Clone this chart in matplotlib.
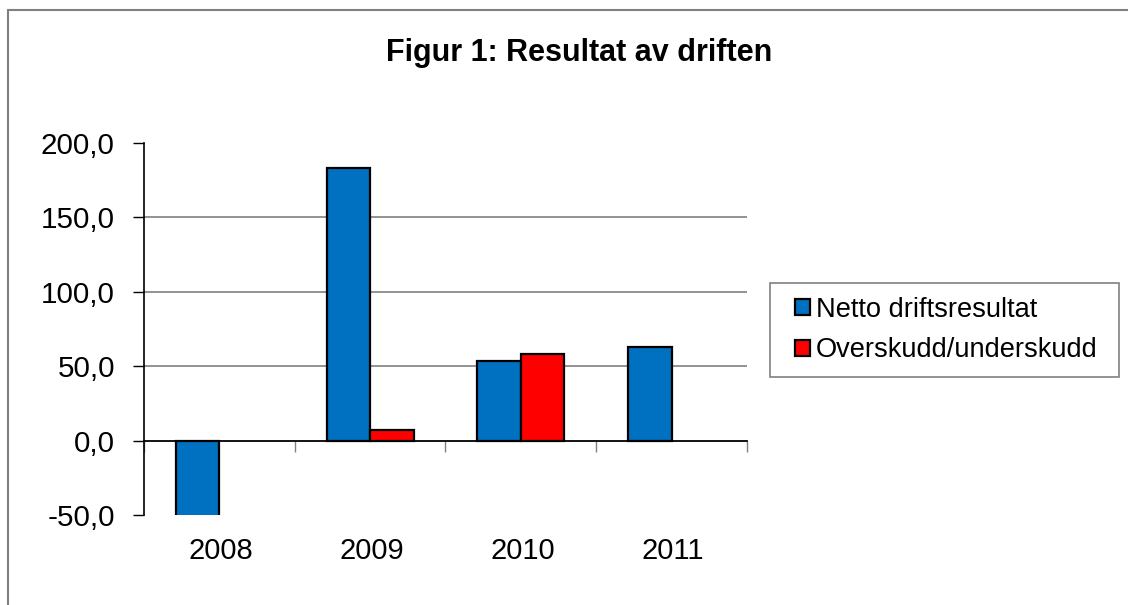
import numpy as np
import matplotlib.pyplot as plt
from matplotlib.patches import Rectangle
from matplotlib.transforms import blended_transform_factory

plt.rcParams['font.family'] = ['Liberation Sans', 'DejaVu Sans']

years = ['2008', '2009', '2010', '2011']
netto = [-60.0, 183.0, 53.8, 62.6]          # 2008 goes below the axis minimum
overskudd = [np.nan, 7.4, 58.5, np.nan]
serie_navn = ['Netto driftsresultat', 'Overskudd/underskudd']
yticks = [-50, 0, 50, 100, 150, 200]

fig = plt.figure(figsize=(11.28, 6.05), dpi=100)
ax = fig.add_axes([144/1128, 1-515/605, 603/1128, 372/605])

x = np.arange(len(years))
w = 0.288
ax.bar(x - w/2, netto, w, color='#0070C0', edgecolor='black', linewidth=1.6,
       label=serie_navn[0], zorder=3)
ax.bar(x + w/2, overskudd, w, color='#FF0000', edgecolor='black', linewidth=1.6,
       label=serie_navn[1], zorder=3)

ax.set_xlim(-0.5, len(years) - 0.5)
ax.set_ylim(-50, 200)

# gridlines (no line at the top)
for v in [50, 100, 150]:
    ax.axhline(v, color='#808080', linewidth=1.2, zorder=1)

ax.set_yticks(yticks)
ax.set_yticklabels([f'{v:.1f}'.replace('.', ',') for v in yticks], fontsize=21.3)
ax.tick_params(axis='y', direction='out', length=8, width=1, pad=13)

# x-axis sits at 0, ticks between categories, labels at the bottom
for s in ['top', 'right']:
    ax.spines[s].set_visible(False)
ax.spines['bottom'].set_position(('data', 0))
ax.spines['bottom'].set_linewidth(1.3)
ax.spines['left'].set_linewidth(1.2)
ax.set_xticks(np.arange(-0.5, len(years), 1.0))
ax.set_xticklabels([])
ax.tick_params(axis='x', direction='out', length=8, width=1, color='#808080')

tr = blended_transform_factory(ax.transData, ax.transAxes)
for i, y in enumerate(years):
    ax.text(i + 0.01, -0.097, y, transform=tr, ha='center', va='center', fontsize=21)

fig.text(579/1128, 1-53/605, 'Figur 1: Resultat av driften', ha='center',
         va='center', fontsize=22, fontweight='bold')

# legend without its own frame, box drawn separately to match the original size
leg = ax.legend(loc='center left', bbox_to_anchor=(783/1128, 1-330/605),
                bbox_transform=fig.transFigure, fontsize=19.6, frameon=False,
                handlelength=0.55, handleheight=0.55, handletextpad=0.2,
                borderpad=0.45, labelspacing=0.55, borderaxespad=0)
fig.add_artist(Rectangle((770/1128, 1-377/605), 349/1128, 94/605,
                         transform=fig.transFigure, fill=False,
                         edgecolor='#808080', linewidth=1.2))

fig.add_artist(Rectangle((8/1128, -0.1), 1.2, 1.1 - 10/605, transform=fig.transFigure,
                         fill=False, edgecolor='#808080', linewidth=1.5))

fig.savefig('out.png', dpi=100)
